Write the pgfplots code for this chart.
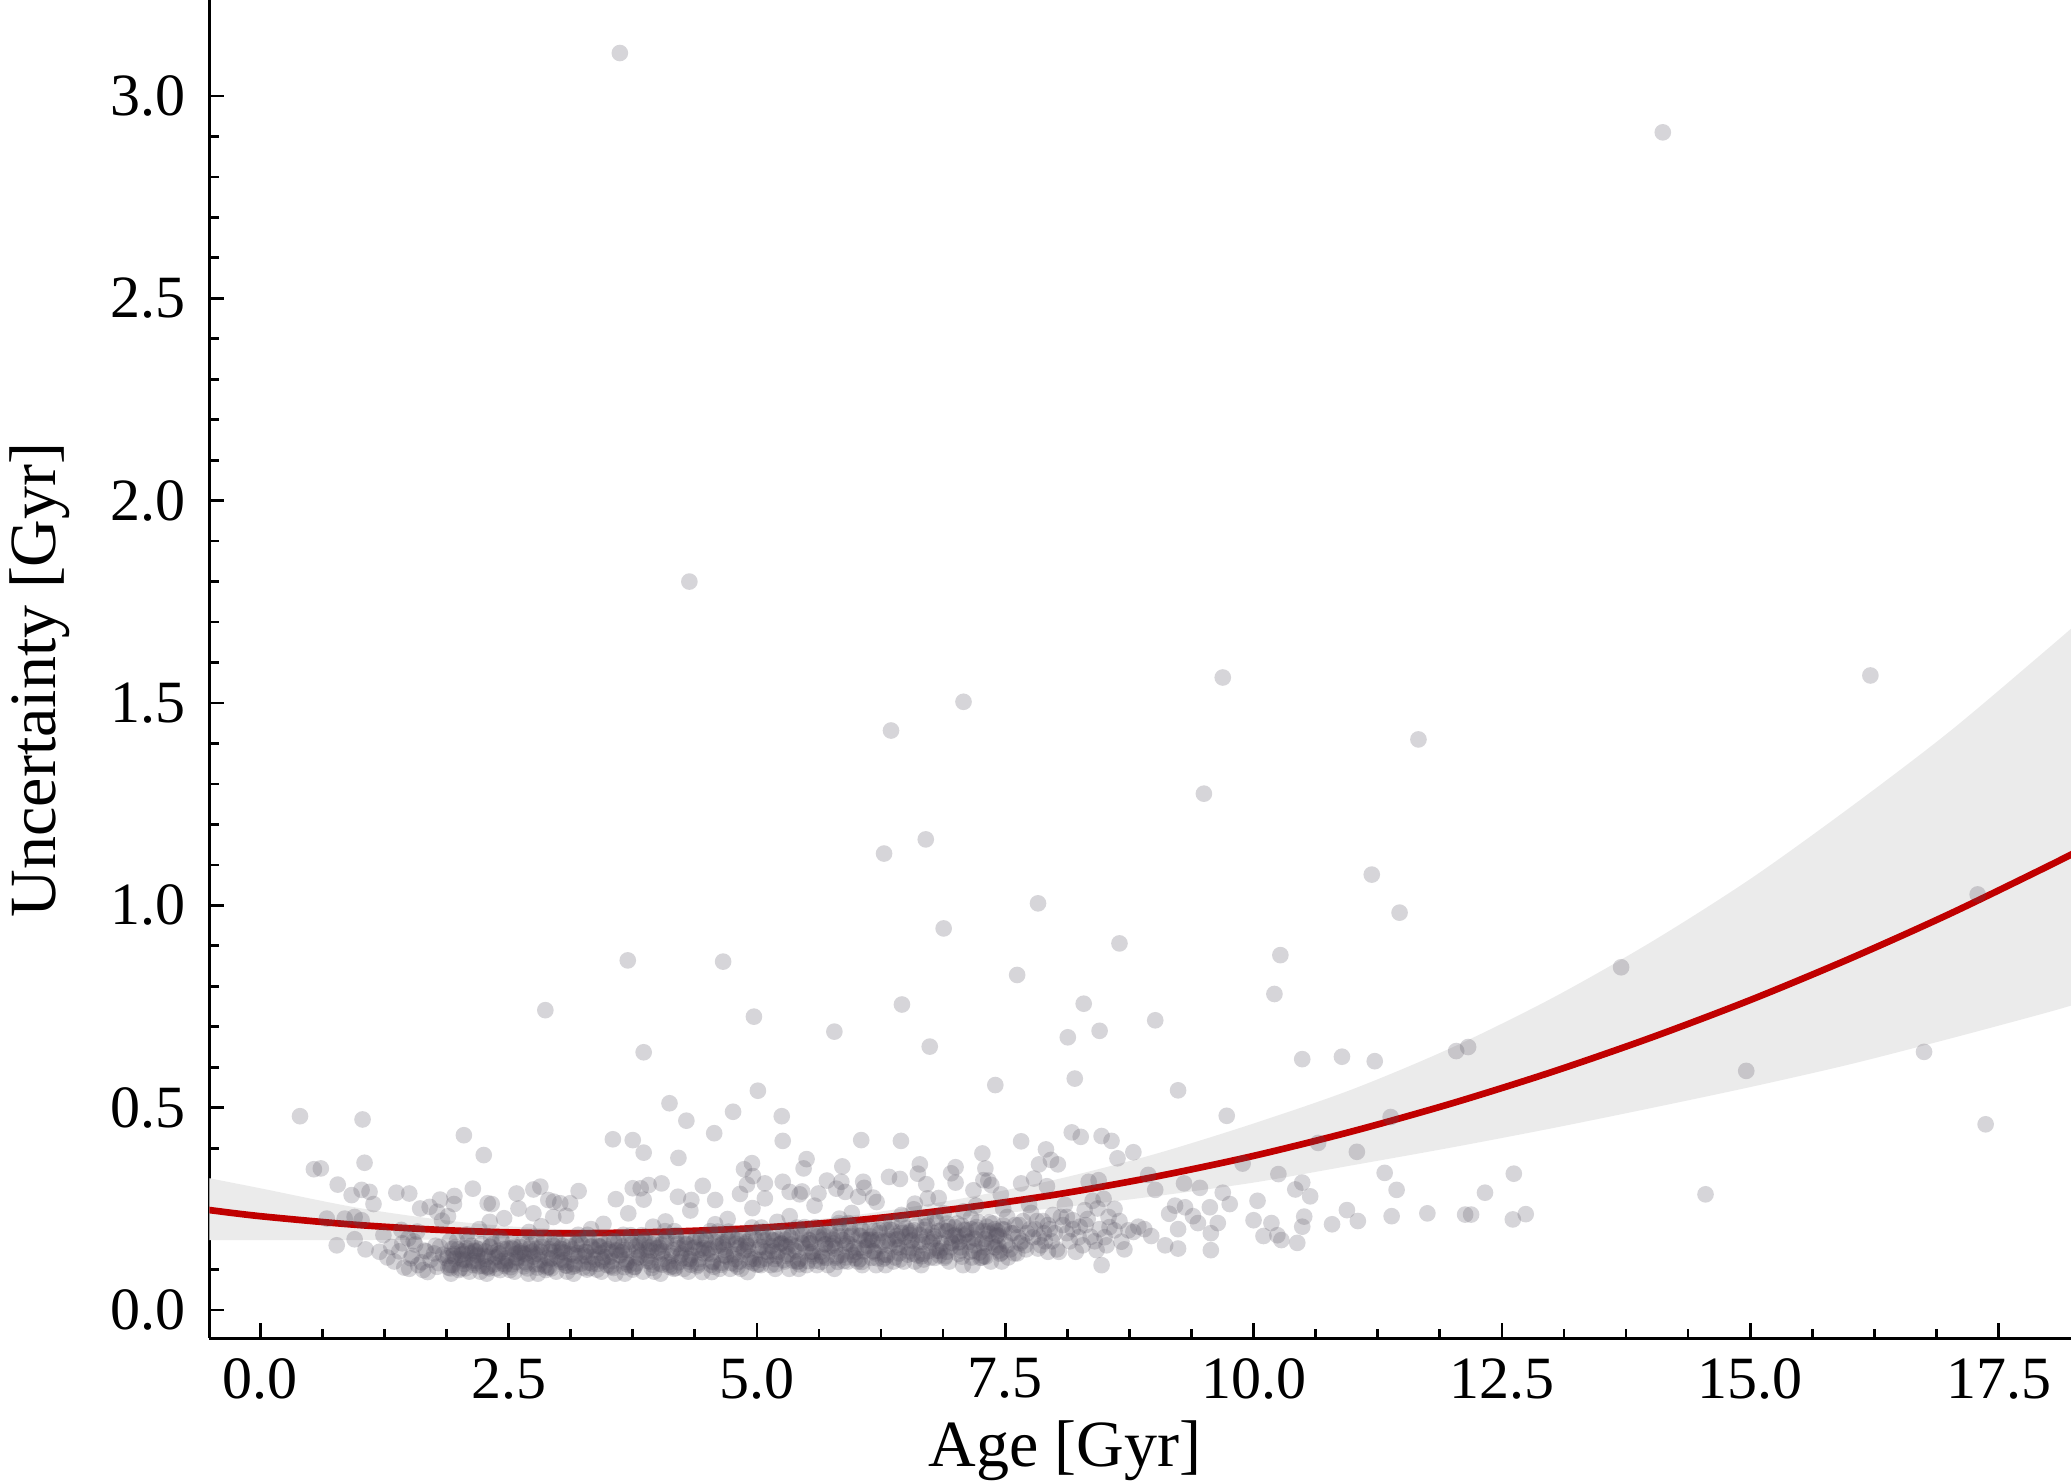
\documentclass[border=0pt]{standalone}
\usepackage{pgfplots}
\pgfplotsset{compat=1.18}
\usepgfplotslibrary{fillbetween}
\usepackage{fontspec}
\setmainfont{Liberation Serif}
\definecolor{fitred}{RGB}{192,0,0}
\definecolor{bandgray}{RGB}{235,235,235}
\definecolor{ptgray}{RGB}{85,80,95}
\pgfplotsset{pts/.style={ptgray, only marks, mark=*, mark size=1.25pt,
  mark options={draw opacity=0, fill=ptgray, fill opacity=0.24}}}

\begin{document}
\begin{tikzpicture}
\begin{axis}[
  at={(0,0)}, anchor=south west,
  width=279.26pt, height=200.7pt, scale only axis,
  xmin=-0.513, xmax=18.23, ymin=-0.069, ymax=3.237,
  axis x line*=bottom, axis y line*=left,
  axis line style={-, line width=0.45pt},
  xtick={0,2.5,...,17.5}, ytick={0,0.5,...,3.0},
  minor x tick num=3, minor y tick num=4,
  tick align=inside,
  major tick length=2.2pt, minor tick length=1.4pt,
  tick style={line width=0.4pt, black},
  /pgf/number format/assume math mode=true,
  xticklabel style={/pgf/number format/fixed, /pgf/number format/fixed zerofill,
    /pgf/number format/precision=1, font=\fontsize{9}{10.8}\selectfont, yshift=0.45pt},
  yticklabel style={/pgf/number format/fixed, /pgf/number format/fixed zerofill,
    /pgf/number format/precision=1, font=\fontsize{9}{10.8}\selectfont},
  xlabel={Age [Gyr]}, ylabel={Uncertainty [Gyr]},
  xlabel style={at={(axis description cs:0.4596,-0.0957)}, anchor=base,
    font=\fontsize{9.9}{12}\selectfont},
  ylabel style={at={(axis description cs:-0.0824,0.492)}, anchor=base,
    font=\fontsize{9.9}{12}\selectfont},
]

% confidence band of the fit
\addplot[name path=bandup, draw=none, smooth, forget plot] coordinates {
(-0.6,0.330) (0,0.301) (1,0.252) (2,0.218) (3,0.200) (4,0.199) (5,0.211)
(6,0.235) (7,0.273) (8,0.322) (9,0.385) (10,0.461) (11,0.546) (12,0.649)
(13,0.770) (14,0.909) (15,1.065) (16,1.241) (17,1.428) (18,1.635) (18.4,1.720)};
\addplot[name path=bandlo, draw=none, smooth, forget plot] coordinates {
(-0.6,0.173) (0,0.173) (1,0.173) (2,0.175) (3,0.181) (4,0.187) (5,0.195)
(6,0.209) (7,0.229) (8,0.252) (9,0.281) (10,0.315) (11,0.358) (12,0.402)
(13,0.449) (14,0.499) (15,0.551) (16,0.607) (17,0.670) (18,0.736) (18.4,0.765)};
\addplot[bandgray, draw=none, forget plot] fill between[of=bandup and bandlo];

% dense cluster
\addplot[pts] coordinates {
(1.500,.102)(1.530,.134)(1.560,.162)(1.580,.194)(1.515,.128)(1.545,.170)(1.590,.111)
(1.625,.118)(1.655,.147)(1.685,.094)(1.705,.255)(1.640,.099)(1.670,.145)(1.715,.124)
(1.750,.140)(1.780,.107)(1.810,.156)(1.830,.221)(1.765,.159)(1.795,.116)(1.840,.137)
(1.875,.128)(1.905,.170)(1.935,.111)(1.955,.282)(1.890,.134)(1.920,.090)(1.965,.156)(1.915,.103)(1.950,.139)(1.980,.170)
(2.000,.099)(2.030,.145)(2.060,.124)(2.080,.187)(2.015,.103)(2.045,.139)(2.090,.170)(2.040,.122)(2.075,.153)(2.105,.095)
(2.125,.159)(2.155,.116)(2.185,.137)(2.205,.200)(2.140,.122)(2.170,.153)(2.215,.095)(2.165,.145)(2.200,.108)(2.230,.163)
(2.250,.134)(2.280,.090)(2.310,.156)(2.330,.262)(2.265,.145)(2.295,.108)(2.340,.163)(2.290,.132)(2.325,.178)(2.355,.113)
(2.375,.103)(2.405,.139)(2.435,.170)(2.455,.227)(2.390,.132)(2.420,.178)(2.465,.113)(2.415,.099)(2.450,.151)(2.480,.128)
(2.500,.122)(2.530,.153)(2.560,.095)(2.580,.288)(2.515,.099)(2.545,.151)(2.590,.128)(2.540,.166)(2.575,.119)(2.605,.142)
(2.625,.145)(2.655,.108)(2.685,.163)(2.705,.193)(2.640,.166)(2.670,.119)(2.715,.142)(2.665,.138)(2.700,.090)(2.730,.162)
(2.750,.132)(2.780,.178)(2.810,.113)(2.830,.207)(2.765,.138)(2.795,.090)(2.840,.162)(2.790,.105)(2.825,.144)(2.855,.178)
(2.875,.099)(2.905,.151)(2.935,.128)(2.955,.268)(2.890,.105)(2.920,.144)(2.965,.178)(2.915,.125)(2.950,.159)(2.980,.095)
(3.000,.166)(3.030,.119)(3.060,.142)(3.080,.233)(3.015,.125)(3.045,.159)(3.090,.095)(3.040,.150)(3.075,.110)(3.105,.170)
(3.125,.138)(3.155,.090)(3.185,.162)(3.205,.294)(3.140,.150)(3.170,.110)(3.215,.170)(3.165,.135)(3.200,.186)(3.230,.115)
(3.250,.105)(3.280,.144)(3.310,.178)(3.330,.200)(3.265,.135)(3.295,.186)(3.340,.115)(3.290,.100)(3.325,.157)(3.355,.131)
(3.375,.125)(3.405,.159)(3.435,.095)(3.455,.213)(3.390,.100)(3.420,.157)(3.465,.131)(3.415,.173)(3.450,.121)(3.480,.147)
(3.500,.150)(3.530,.110)(3.560,.170)(3.580,.274)(3.515,.173)(3.545,.121)(3.590,.147)(3.540,.143)(3.575,.090)(3.605,.169)
(3.625,.135)(3.655,.186)(3.685,.115)(3.705,.239)(3.640,.143)(3.670,.090)(3.715,.169)(3.665,.106)(3.700,.148)(3.730,.185)
(3.750,.100)(3.780,.157)(3.810,.131)(3.830,.301)(3.765,.106)(3.795,.148)(3.840,.185)(3.790,.128)(3.825,.165)(3.855,.095)
(3.875,.173)(3.905,.121)(3.935,.147)(3.955,.206)(3.890,.128)(3.920,.165)(3.965,.095)(3.915,.155)(3.950,.112)(3.980,.177)
(4.000,.143)(4.030,.090)(4.060,.169)(4.080,.219)(4.015,.155)(4.045,.112)(4.090,.177)(4.040,.140)(4.075,.195)(4.105,.118)
(4.125,.106)(4.155,.148)(4.185,.185)(4.205,.280)(4.140,.140)(4.170,.195)(4.215,.118)(4.165,.102)(4.200,.163)(4.230,.135)
(4.250,.128)(4.280,.165)(4.310,.095)(4.330,.246)(4.265,.102)(4.295,.163)(4.340,.135)(4.290,.181)(4.325,.126)(4.355,.153)
(4.375,.155)(4.405,.112)(4.435,.177)(4.455,.307)(4.390,.181)(4.420,.126)(4.465,.153)(4.415,.149)(4.450,.094)(4.480,.177)
(4.500,.140)(4.530,.195)(4.560,.118)(4.580,.212)(4.515,.149)(4.545,.094)(4.590,.177)(4.540,.112)(4.575,.156)(4.605,.194)
(4.625,.102)(4.655,.163)(4.685,.135)(4.705,.225)(4.640,.112)(4.670,.156)(4.715,.194)(4.665,.135)(4.700,.173)(4.730,.102)
(4.750,.181)(4.780,.126)(4.810,.153)(4.830,.287)(4.765,.135)(4.795,.173)(4.840,.102)(4.790,.164)(4.825,.120)(4.855,.186)
(4.875,.149)(4.905,.094)(4.935,.177)(4.955,.252)(4.890,.164)(4.920,.120)(4.965,.186)(4.915,.149)(4.950,.204)(4.980,.127)
(5.000,.112)(5.030,.156)(5.060,.194)(5.080,.313)(5.015,.149)(5.045,.204)(5.090,.127)(5.040,.111)(5.075,.172)(5.105,.144)
(5.125,.135)(5.155,.173)(5.185,.102)(5.205,.218)(5.140,.111)(5.170,.172)(5.215,.144)(5.165,.190)(5.200,.134)(5.230,.162)
(5.250,.164)(5.280,.120)(5.310,.186)(5.330,.232)(5.265,.190)(5.295,.134)(5.340,.162)(5.290,.158)(5.325,.102)(5.355,.186)
(5.375,.149)(5.405,.204)(5.435,.127)(5.455,.293)(5.390,.158)(5.420,.102)(5.465,.186)(5.415,.121)(5.450,.166)(5.480,.205)
(5.500,.111)(5.530,.172)(5.560,.144)(5.580,.258)(5.515,.121)(5.545,.166)(5.590,.205)(5.540,.144)(5.575,.184)(5.605,.111)
(5.625,.190)(5.655,.134)(5.685,.162)(5.705,.320)(5.640,.144)(5.670,.184)(5.715,.111)(5.665,.174)(5.700,.129)(5.730,.196)
(5.750,.158)(5.780,.102)(5.810,.186)(5.830,.226)(5.765,.174)(5.795,.129)(5.840,.196)(5.790,.159)(5.825,.215)(5.855,.136)
(5.875,.121)(5.905,.166)(5.935,.205)(5.955,.240)(5.890,.159)(5.920,.215)(5.965,.136)(5.915,.120)(5.950,.183)(5.980,.155)
(6.000,.144)(6.030,.184)(6.060,.111)(6.080,.302)(6.015,.120)(6.045,.183)(6.090,.155)(6.040,.202)(6.075,.145)(6.105,.173)
(6.125,.174)(6.155,.129)(6.185,.196)(6.205,.267)(6.140,.202)(6.170,.145)(6.215,.173)(6.165,.169)(6.200,.111)(6.230,.198)
(6.250,.159)(6.280,.215)(6.310,.136)(6.330,.329)(6.265,.169)(6.295,.111)(6.340,.198)(6.290,.130)(6.325,.176)(6.355,.217)
(6.375,.120)(6.405,.183)(6.435,.155)(6.455,.235)(6.390,.130)(6.420,.176)(6.465,.217)(6.415,.155)(6.450,.195)(6.480,.120)
(6.500,.202)(6.530,.145)(6.560,.173)(6.580,.249)(6.515,.155)(6.545,.195)(6.590,.120)(6.540,.186)(6.575,.139)(6.605,.209)
(6.625,.169)(6.655,.111)(6.685,.198)(6.705,.311)(6.640,.186)(6.670,.139)(6.715,.209)(6.665,.169)(6.700,.228)(6.730,.146)
(6.750,.130)(6.780,.176)(6.810,.217)(6.830,.277)(6.765,.169)(6.795,.228)(6.840,.146)(6.790,.129)(6.825,.195)(6.855,.165)
(6.875,.155)(6.905,.195)(6.935,.120)(6.955,.338)(6.890,.129)(6.920,.195)(6.965,.165)(6.915,.214)(6.950,.155)(6.980,.184)
(7.000,.186)(7.030,.139)(7.060,.209)(7.080,.244)(7.015,.214)(7.045,.155)(7.090,.184)(7.040,.169)(7.075,.111)(7.105,.198)
(7.125,.169)(7.155,.228)(7.185,.146)(7.205,.258)(7.140,.169)(7.170,.111)(7.215,.198)(7.165,.130)(7.200,.176)(7.230,.217)
(7.250,.129)(7.280,.195)(7.310,.165)(7.330,.320)(7.265,.130)(7.295,.176)(7.340,.217)(7.290,.155)(7.325,.195)(7.355,.120)
(7.375,.214)(7.405,.155)(7.435,.184)(7.455,.286)(7.390,.155)(7.420,.195)(7.465,.120)(7.415,.186)(7.450,.139)(7.480,.209)
(7.47,.200)(7.50,.170)(7.52,.230)(7.55,.150)(7.58,.190)(7.60,.210)(7.63,.180)(7.68,.220)(7.70,.160)(7.72,.190)
(7.76,.240)(7.80,.200)(7.84,.180)(7.88,.220)(7.90,.170)(7.95,.200)(7.48,.250)(7.53,.130)(7.62,.140)(7.74,.260)
(8.00,.190)(8.08,.210)(8.15,.170)(8.28,.160)(8.33,.225)(8.50,.180)(8.55,.205)(8.65,.220)(8.70,.150)(8.90,.200)
(8.10,.260)(8.38,.270)(7.98,.235)(8.60,.250)
(1.35,.120)(1.40,.145)(1.45,.105)(1.28,.130)(1.43,.165)
(7.52,.160)(7.56,.190)(7.59,.140)(7.64,.210)(7.67,.170)(7.71,.150)(7.75,.200)(7.78,.180)
(7.82,.220)(7.86,.160)(7.89,.190)(7.93,.210)(7.97,.170)(8.02,.150)(8.06,.230)(8.12,.190)
(8.18,.200)(8.24,.180)(8.31,.210)(8.40,.170)(8.45,.200)(8.52,.160)
};

% core of the cluster
\addplot[pts] coordinates {
(1.895,.105)(1.930,.151)(1.960,.127)(2.020,.136)(2.055,.114)(2.085,.147)
(2.145,.111)(2.180,.134)(2.210,.150)(2.270,.126)(2.305,.103)(2.335,.140)
(2.395,.147)(2.430,.121)(2.460,.109)(2.520,.106)(2.555,.157)(2.585,.130)
(2.645,.140)(2.680,.115)(2.710,.152)(2.770,.113)(2.805,.138)(2.835,.156)
(2.895,.129)(2.930,.103)(2.960,.145)(3.020,.152)(3.055,.123)(3.085,.110)
(3.145,.107)(3.180,.163)(3.210,.133)(3.270,.144)(3.305,.117)(3.335,.157)
(3.395,.114)(3.430,.141)(3.460,.162)(3.520,.132)(3.555,.104)(3.585,.149)
(3.645,.157)(3.680,.125)(3.710,.111)(3.770,.107)(3.805,.169)(3.835,.136)
(3.895,.148)(3.930,.119)(3.960,.163)(4.020,.115)(4.055,.145)(4.085,.168)
(4.145,.134)(4.180,.104)(4.210,.153)(4.270,.162)(4.305,.127)(4.335,.112)
(4.395,.108)(4.430,.175)(4.460,.140)(4.520,.152)(4.555,.120)(4.585,.168)
(4.645,.117)(4.680,.149)(4.710,.173)(4.770,.139)(4.805,.107)(4.835,.159)
(4.895,.168)(4.930,.132)(4.960,.116)(5.020,.113)(5.055,.181)(5.085,.145)
(5.145,.158)(5.180,.126)(5.210,.174)(5.270,.124)(5.305,.156)(5.335,.180)
(5.395,.145)(5.430,.113)(5.460,.165)(5.520,.174)(5.555,.138)(5.585,.122)
(5.645,.119)(5.680,.188)(5.710,.152)(5.770,.165)(5.805,.133)(5.835,.182)
(5.895,.130)(5.930,.163)(5.960,.188)(6.020,.152)(6.055,.119)(6.085,.173)
(6.145,.182)(6.180,.145)(6.210,.128)(6.270,.126)(6.305,.197)(6.335,.159)
(6.395,.174)(6.430,.140)(6.460,.190)(6.520,.137)(6.555,.171)(6.585,.197)
(6.645,.160)(6.680,.125)(6.710,.181)(6.770,.191)(6.805,.153)(6.835,.135)
(6.895,.133)(6.930,.206)(6.960,.167)(7.020,.182)(7.055,.147)(7.085,.199)
(7.145,.144)(7.180,.179)(7.210,.205)(7.270,.167)(7.305,.132)(7.340,.189)
(7.395,.200)(7.430,.160)(7.460,.142)
(1.910,.111)(1.940,.134)(1.990,.150)(2.035,.126)(2.065,.103)(2.115,.140)
(2.160,.147)(2.190,.121)(2.240,.109)(2.285,.106)(2.315,.157)(2.365,.130)
(2.410,.140)(2.440,.115)(2.490,.152)(2.535,.113)(2.565,.138)(2.615,.156)
(2.660,.129)(2.690,.103)(2.740,.145)(2.785,.152)(2.815,.123)(2.865,.110)
(2.910,.107)(2.940,.163)(2.990,.133)(3.035,.144)(3.065,.117)(3.115,.157)
(3.160,.114)(3.190,.141)(3.240,.162)(3.285,.132)(3.315,.104)(3.365,.149)
(3.410,.157)(3.440,.125)(3.490,.111)(3.535,.107)(3.565,.169)(3.615,.136)
(3.660,.148)(3.690,.119)(3.740,.163)(3.785,.115)(3.815,.145)(3.865,.168)
(3.910,.134)(3.940,.104)(3.990,.153)(4.035,.162)(4.065,.127)(4.115,.112)
(4.160,.108)(4.190,.175)(4.240,.140)(4.285,.152)(4.315,.120)(4.365,.168)
(4.410,.117)(4.440,.149)(4.490,.173)(4.535,.139)(4.565,.107)(4.615,.159)
(4.660,.168)(4.690,.132)(4.740,.116)(4.785,.113)(4.815,.181)(4.865,.145)
(4.910,.158)(4.940,.126)(4.990,.174)(5.035,.124)(5.065,.156)(5.115,.180)
(5.160,.145)(5.190,.113)(5.240,.165)(5.285,.174)(5.315,.138)(5.365,.122)
(5.410,.119)(5.440,.188)(5.490,.152)(5.535,.165)(5.565,.133)(5.615,.182)
(5.660,.130)(5.690,.163)(5.740,.188)(5.785,.152)(5.815,.119)(5.865,.173)
(5.910,.182)(5.940,.145)(5.990,.128)(6.035,.126)(6.065,.197)(6.115,.159)
(6.160,.174)(6.190,.140)(6.240,.190)(6.285,.137)(6.315,.171)(6.365,.197)
(6.410,.160)(6.440,.125)(6.490,.181)(6.535,.191)(6.565,.153)(6.615,.135)
(6.660,.133)(6.690,.206)(6.740,.167)(6.785,.182)(6.815,.147)(6.865,.199)
(6.910,.144)(6.940,.179)(6.990,.205)(7.035,.167)(7.065,.132)(7.115,.189)
(7.160,.200)(7.190,.160)(7.240,.142)(7.285,.133)(7.315,.206)(7.365,.167)
(7.410,.182)(7.440,.147)(7.490,.199)
};

% spread and outliers
\addplot[pts] coordinates {
(0.40,0.479)(0.54,0.348)(0.61,0.350)(0.78,0.310)(0.92,0.284)(1.03,0.471)(1.05,0.364)
(1.02,0.297)(1.10,0.292)(1.14,0.262)(0.67,0.226)(0.85,0.226)(0.95,0.230)(1.02,0.222)
(0.77,0.160)(0.95,0.175)(1.06,0.150)(1.20,0.144)(1.32,0.156)(1.37,0.290)(1.50,0.288)
(1.61,0.251)(1.81,0.273)(1.78,0.243)(1.95,0.262)(1.89,0.232)(2.05,0.432)(2.25,0.383)
(2.14,0.300)(2.29,0.264)(2.31,0.218)(2.60,0.251)(2.75,0.298)(2.82,0.305)(2.75,0.239)
(2.90,0.272)(3.02,0.264)(3.12,0.264)(2.95,0.230)(2.87,0.741)(1.42,0.198)(1.49,0.177)(1.24,0.185)
(3.86,0.637)(4.97,0.725)(5.78,0.688)(6.74,0.651)(7.40,0.556)(5.01,0.542)(4.12,0.511)
(4.29,0.468)(4.76,0.490)(5.25,0.479)(4.57,0.437)(5.26,0.418)(6.05,0.420)(6.45,0.418)
(3.55,0.422)(3.75,0.420)(3.86,0.389)(4.21,0.376)(5.50,0.373)(5.47,0.350)(7.27,0.387)
(7.30,0.350)(6.62,0.337)(6.44,0.324)(5.85,0.317)(6.07,0.317)(7.36,0.309)(7.00,0.315)
(4.96,0.331)(4.90,0.310)(5.26,0.317)(4.04,0.313)(3.91,0.309)(3.75,0.301)(3.86,0.273)
(4.34,0.272)(4.58,0.272)(5.33,0.292)(5.08,0.276)(5.43,0.286)(5.62,0.288)(5.80,0.300)
(5.89,0.292)(6.02,0.280)(6.17,0.278)(6.59,0.263)(6.72,0.276)(7.18,0.296)(7.28,0.321)(6.88,0.239)
(4.95,0.363)(4.87,0.348)(5.86,0.355)(6.64,0.360)(7.00,0.353)(7.91,0.397)(7.84,0.360)
(7.96,0.371)(8.03,0.360)(7.66,0.417)(8.17,0.439)(8.47,0.430)(8.57,0.418)(8.79,0.390)
(8.63,0.375)(9.89,0.362)(10.25,0.336)(9.30,0.313)(9.46,0.302)(9.69,0.290)(8.26,0.428)
(8.94,0.334)(9.01,0.297)(8.49,0.275)(8.34,0.317)(8.44,0.321)(10.65,0.413)(11.04,0.391)
(11.32,0.339)(11.44,0.297)(11.39,0.232)(11.38,0.477)(10.49,0.315)(10.42,0.298)(10.57,0.281)
(10.04,0.270)(10.00,0.222)(10.18,0.215)(10.24,0.185)(10.10,0.183)(10.28,0.173)(10.44,0.166)
(10.49,0.206)(10.51,0.231)(10.79,0.212)(10.94,0.247)(11.05,0.220)(9.57,0.148)(9.57,0.190)
(9.56,0.254)(9.76,0.262)(9.64,0.215)(9.44,0.215)(9.31,0.254)(9.21,0.258)(9.15,0.238)
(9.24,0.200)(9.24,0.152)(9.39,0.232)(9.11,0.160)(8.79,0.193)(8.84,0.206)(8.97,0.183)
(8.67,0.169)(8.74,0.197)(8.60,0.197)(8.47,0.111)(8.42,0.148)(8.36,0.181)(8.21,0.144)
(8.18,0.222)(8.04,0.144)(7.93,0.144)(7.83,0.152)(7.65,0.165)(7.66,0.313)(7.79,0.325)
(7.92,0.306)(8.30,0.247)(8.43,0.251)(8.54,0.230)(8.12,0.230)(8.25,0.206)
(12.62,0.337)(12.33,0.290)(11.75,0.239)(12.13,0.236)(12.19,0.236)(12.61,0.224)(12.74,0.237)(14.55,0.286)
(3.62,3.106)(14.12,2.910)(4.32,1.800)(7.08,1.503)(6.35,1.432)(9.69,1.563)(16.21,1.568)
(11.66,1.410)(9.50,1.276)(6.70,1.163)(6.28,1.128)(7.83,1.005)(17.29,1.027)(11.19,1.076)
(11.47,0.982)(6.88,0.943)(8.65,0.906)(3.70,0.864)(4.66,0.861)(10.27,0.877)(13.70,0.847)
(6.46,0.755)(7.62,0.828)(8.29,0.757)(10.21,0.781)(9.01,0.716)(8.45,0.690)(8.13,0.674)
(12.04,0.640)(12.16,0.650)(16.75,0.638)(10.89,0.626)(10.49,0.620)(11.22,0.615)(14.96,0.591)
(17.37,0.459)(8.20,0.572)(9.24,0.543)(9.73,0.480)
};

% fitted relation
\addplot[fitred, line width=1pt, smooth] coordinates {
(-0.6,0.250) (0,0.232) (1,0.210) (2,0.196) (3,0.190) (4,0.193) (5,0.203)
(6,0.222) (7,0.250) (8,0.285) (9,0.329) (10,0.381) (11,0.442) (12,0.511)
(13,0.588) (14,0.673) (15,0.766) (16,0.868) (17,0.978) (18,1.097) (18.4,1.147)};

\end{axis}
\pgfresetboundingbox
\path[use as bounding box] (-31.395pt,-21.6pt) rectangle (279.26pt,200.7pt);
\end{tikzpicture}
\end{document}
